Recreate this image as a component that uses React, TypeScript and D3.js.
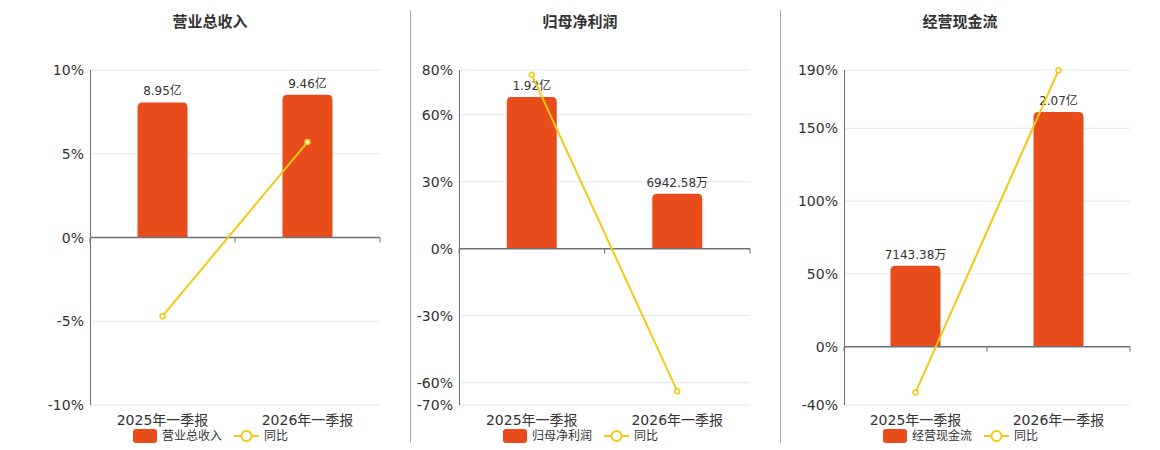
import React from "react";
import * as d3 from "d3";

// data
const periods = ["2025年一季报", "2026年一季报"];

const titles = ["营业总收入", "归母净利润", "经营现金流"];
const barValues = [
  [8.95, 9.46], // 亿
  [1.92, 0.6942], // 亿
  [0.7143, 2.07], // 亿
];
const barLabels = [
  ["8.95亿", "9.46亿"],
  ["1.92亿", "6942.58万"],
  ["7143.38万", "2.07亿"],
];
const yoyValues = [
  [-4.7, 5.7],
  [77.9, -63.8],
  [-31.5, 189.8],
];
const pctTicks = [
  [10, 5, 0, -5, -10],
  [80, 60, 30, 0, -30, -60, -70],
  [190, 150, 100, 50, 0, -40],
];
// value of the hidden bar axis at the top of each plot
const barAxisMax = [11.1, 2.26, 2.44];

const width = 1160;
const height = 450;
const plotTop = 70;
const plotBottom = 405;
const panels = [
  { left: 90, right: 380, center: 210 },
  { left: 459, right: 750, center: 580 },
  { left: 844, right: 1130, center: 960 },
];
const separators = [410.5, 780.5];

const barColor = "#e84c1b";
const lineColor = "#f3c913";
const font = "'DejaVu Sans', 'Noto Sans CJK SC', sans-serif";

function topRounded(x: number, y: number, w: number, h: number, r: number) {
  const rr = Math.min(r, h, w / 2);
  return `M${x},${y + h}V${y + rr}Q${x},${y} ${x + rr},${y}H${x + w - rr}Q${x + w},${y} ${x + w},${y + rr}V${y + h}Z`;
}

const Panel: React.FC<{ i: number }> = ({ i }) => {
  const p = panels[i];
  const ticks = pctTicks[i];
  const y = d3
    .scaleLinear()
    .domain([d3.min(ticks)!, d3.max(ticks)!])
    .range([plotBottom, plotTop]);
  const yBar = d3
    .scaleLinear()
    .domain([0, barAxisMax[i]])
    .range([y(0), plotTop]);
  const x = d3.scaleBand<string>().domain(periods).range([p.left, p.right]);
  const bw = 50;

  const line = d3
    .line<number>()
    .x((_, j) => x(periods[j])! + x.bandwidth() / 2)
    .y((d) => y(d));

  const legendLeft = p.center - 77;

  return (
    <g>
      <text
        x={p.center}
        y={22}
        textAnchor="middle"
        dominantBaseline="central"
        fontSize={15}
        fontWeight="bold"
        fill="#333"
      >
        {titles[i]}
      </text>

      {ticks.map((t) => (
        <g key={t}>
          {t !== 0 && (
            <line x1={p.left} x2={p.right} y1={y(t)} y2={y(t)} stroke="#e0e6f1" />
          )}
          <text
            x={p.left - 6}
            y={y(t)}
            textAnchor="end"
            dominantBaseline="central"
            fontSize={14}
            fill="#333"
          >
            {t}%
          </text>
        </g>
      ))}

      <line x1={p.left + 0.5} x2={p.left + 0.5} y1={plotTop} y2={plotBottom} stroke="#6e7079" />

      {barValues[i].map((v, j) => {
        const bx = x(periods[j])! + (x.bandwidth() - bw) / 2;
        const top = yBar(v);
        return (
          <g key={j}>
            <path d={topRounded(bx, top, bw, y(0) - top, 5)} fill={barColor} />
            <text
              x={bx + bw / 2}
              y={top - 7}
              textAnchor="middle"
              fontSize={12}
              fill="#333"
            >
              {barLabels[i][j]}
            </text>
          </g>
        );
      })}

      <line x1={p.left} x2={p.right} y1={y(0)} y2={y(0)} stroke="#6e7079" strokeWidth={1.5} />
      {[p.left, (p.left + p.right) / 2, p.right].map((tx) => (
        <line key={tx} x1={tx} x2={tx} y1={y(0)} y2={y(0) + 5} stroke="#6e7079" />
      ))}

      {periods.map((c) => (
        <text
          key={c}
          x={x(c)! + x.bandwidth() / 2}
          y={425}
          textAnchor="middle"
          fontSize={14}
          fill="#333"
        >
          {c}
        </text>
      ))}

      <path d={line(yoyValues[i]) ?? ""} fill="none" stroke={lineColor} strokeWidth={2} />
      {yoyValues[i].map((v, j) => (
        <circle
          key={j}
          cx={x(periods[j])! + x.bandwidth() / 2}
          cy={y(v)}
          r={2.5}
          fill="#fff"
          stroke={lineColor}
          strokeWidth={1.5}
        />
      ))}

      {/* legend */}
      <rect x={legendLeft} y={429} width={24} height={14} rx={3} fill={barColor} />
      <text x={legendLeft + 29} y={436} dominantBaseline="central" fontSize={12} fill="#333">
        {titles[i]}
      </text>
      <line
        x1={legendLeft + 101}
        x2={legendLeft + 126}
        y1={436}
        y2={436}
        stroke={lineColor}
        strokeWidth={2}
      />
      <circle cx={legendLeft + 113.5} cy={436} r={5} fill="#fff" stroke={lineColor} strokeWidth={2} />
      <text x={legendLeft + 131} y={436} dominantBaseline="central" fontSize={12} fill="#333">
        同比
      </text>
    </g>
  );
};

export default function App() {
  return (
    <svg
      width={width}
      height={height}
      fontFamily={font}
      style={{ position: "absolute", left: 0, top: 0, background: "#fff" }}
    >
      {separators.map((sx) => (
        <line key={sx} x1={sx} x2={sx} y1={10} y2={443} stroke="#aaa" />
      ))}
      {titles.map((_, i) => (
        <Panel key={i} i={i} />
      ))}
    </svg>
  );
}
